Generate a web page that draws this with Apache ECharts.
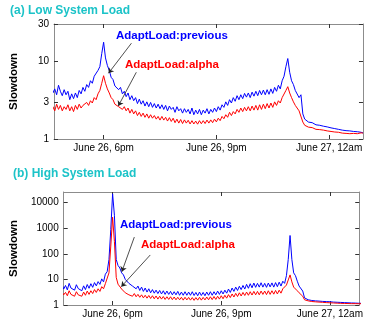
<!DOCTYPE html>
<html>
<head>
<meta charset="utf-8">
<script src="https://cdn.jsdelivr.net/npm/echarts@6/dist/echarts.min.js"></script>
<style>
html, body { margin: 0; padding: 0; background: #fff; }
#main { width: 365px; height: 320px; }
</style>
</head>
<body>
<div id="main"></div>
<script>
// samples every 0.05 h, hours relative to June 26, 6pm
const T0 = -1.4;
const STEP = 0.05;
const xTicks = [0, 3, 6];
const xTickLabels = ['June 26, 6pm', 'June 26, 9pm', 'June 27, 12am'];
const lowTicks = [1, 3, 10, 30];
const highTicks = [1, 10, 100, 1000, 10000];

const lowPrevious = [
  4.7, 3.9, 4.4, 3.7, 4.9, 4.1, 3.6, 4.3, 3.7, 4.1,
  3.2, 3.8, 3.3, 3.9, 3.4, 4.2, 3.8, 4.6, 4.1, 5.0,
  4.6, 5.6, 5.2, 6.4, 6.2, 7.6, 8.5, 12.5, 17.5, 11,
  8.8, 7.6, 6.2, 5.8, 4.8, 5.0, 4.3, 4.6, 3.8, 4.1,
  3.5, 3.9, 3.2, 3.6, 3.1, 3.4, 2.85, 3.25, 2.8, 3.1,
  2.65, 3.0, 2.6, 2.95, 2.55, 2.85, 2.5, 2.8, 2.45, 2.75,
  2.4, 2.7, 2.3, 2.65, 2.4, 2.55, 2.2, 2.6, 2.3, 2.45,
  2.15, 2.45, 2.2, 2.4, 2.1, 2.5, 2.05, 2.35, 2.1, 2.4,
  2.05, 2.35, 2.15, 2.45, 2.1, 2.4, 2.2, 2.5, 2.25, 2.6,
  2.35, 2.75, 2.55, 3.0, 2.7, 3.2, 2.9, 3.4, 3.05, 3.6,
  3.2, 3.7, 3.3, 3.85, 3.45, 3.9, 3.4, 4.0, 3.55, 4.1,
  3.6, 4.2, 3.7, 4.25, 3.7, 4.3, 3.75, 4.4, 3.85, 4.6,
  4.1, 4.9, 4.4, 5.6, 6.4, 8.5, 10.8, 7.2, 5.6, 5.0,
  4.2, 4.0, 3.4, 3.7, 2.1, 1.8, 1.7, 1.65, 1.58, 1.62,
  1.55, 1.52, 1.47, 1.5, 1.44, 1.46, 1.39, 1.43, 1.37, 1.39,
  1.33, 1.36, 1.31, 1.33, 1.28, 1.3, 1.27, 1.28, 1.25, 1.27,
  1.24, 1.25, 1.22, 1.24, 1.21, 1.22, 1.2
];
const lowAlpha = [
  2.0, 2.6, 2.3, 2.8, 2.4, 2.7, 2.3, 2.6, 2.4, 2.75,
  2.3, 2.6, 2.25, 2.7, 2.4, 2.8, 2.5, 2.7, 2.55, 2.95,
  2.7, 3.1, 2.9, 3.4, 3.2, 3.8, 4.2, 5.2, 6.5, 5.2,
  4.4, 3.9, 3.4, 3.2, 2.8, 2.95, 2.6, 2.75, 2.4, 2.6,
  2.3, 2.5, 2.15, 2.4, 2.1, 2.3, 2.0, 2.2, 1.95, 2.15,
  1.9, 2.1, 1.85, 2.05, 1.85, 2.0, 1.8, 1.95, 1.75, 1.95,
  1.75, 1.9, 1.7, 1.88, 1.68, 1.85, 1.62, 1.8, 1.6, 1.78,
  1.58, 1.76, 1.6, 1.74, 1.56, 1.72, 1.56, 1.7, 1.55, 1.72,
  1.57, 1.72, 1.58, 1.75, 1.6, 1.76, 1.62, 1.8, 1.66, 1.85,
  1.72, 1.95, 1.82, 2.05, 1.9, 2.2, 2.0, 2.25, 2.1, 2.4,
  2.2, 2.5, 2.25, 2.55, 2.3, 2.6, 2.3, 2.65, 2.35, 2.7,
  2.35, 2.75, 2.4, 2.8, 2.45, 2.85, 2.5, 2.9, 2.55, 3.0,
  2.7, 3.1, 2.9, 3.4, 3.6, 4.2, 4.7, 3.9, 3.4, 3.0,
  2.7, 2.6, 2.3, 2.4, 1.65, 1.5, 1.45, 1.42, 1.38, 1.4,
  1.35, 1.33, 1.3, 1.32, 1.28, 1.3, 1.26, 1.27, 1.24, 1.25,
  1.21, 1.23, 1.2, 1.22, 1.17, 1.19, 1.16, 1.18, 1.15, 1.17,
  1.17, 1.18, 1.15, 1.17, 1.18, 1.2, 1.19
];
const highPrevious = [
  6.5, 4.2, 5.8, 3.9, 7.0, 4.6, 5.4, 3.8, 6.2, 4.4,
  5.0, 3.6, 5.6, 4.0, 6.3, 4.5, 6.8, 4.9, 7.5, 5.6,
  8.2, 6.4, 10.5, 8.0, 16, 20, 60, 900, 22000, 3200,
  60, 35, 28, 18, 15, 10, 11, 7.0, 8.0, 5.5,
  6.2, 4.3, 5.5, 3.7, 5.0, 3.4, 4.6, 3.2, 4.3, 3.0,
  4.0, 2.9, 3.8, 2.8, 3.7, 2.7, 3.6, 2.6, 3.5, 2.6,
  3.4, 2.5, 3.3, 2.5, 3.4, 2.4, 3.2, 2.4, 3.3, 2.4,
  3.2, 2.4, 3.3, 2.35, 3.1, 2.3, 3.2, 2.35, 3.1, 2.3,
  3.2, 2.4, 3.3, 2.4, 3.3, 2.5, 3.5, 2.6, 3.6, 2.7,
  3.8, 2.9, 4.2, 3.1, 4.6, 3.4, 5.0, 3.7, 5.4, 4.0,
  5.8, 4.2, 6.4, 4.5, 6.8, 4.7, 7.2, 4.9, 7.0, 5.0,
  7.4, 5.0, 7.0, 4.9, 7.2, 5.1, 7.3, 5.0, 7.5, 5.2,
  7.8, 5.5, 8.5, 7.0, 14, 60, 520, 60, 18, 14,
  8.5, 5.5, 6.0, 3.5, 1.9, 1.7, 1.6, 1.55, 1.5, 1.52,
  1.45, 1.47, 1.42, 1.44, 1.38, 1.41, 1.36, 1.38, 1.34, 1.36,
  1.3, 1.33, 1.28, 1.31, 1.26, 1.28, 1.24, 1.26, 1.22, 1.24,
  1.2, 1.22, 1.19, 1.2, 1.17, 1.18, 1.16
];
const highAlpha = [
  3.4, 2.5, 3.1, 2.3, 3.6, 2.6, 3.0, 2.2, 3.3, 2.5,
  2.9, 2.2, 3.2, 2.4, 3.5, 2.6, 3.6, 2.8, 4.0, 3.1,
  4.3, 3.4, 5.2, 4.3, 6.8, 7.5, 18, 200, 2700, 300,
  12, 6.5, 5.5, 4.2, 3.8, 3.0, 3.3, 2.5, 2.9, 2.2,
  2.8, 2.1, 2.6, 2.0, 2.5, 1.9, 2.4, 1.85, 2.35, 1.8,
  2.3, 1.75, 2.25, 1.7, 2.2, 1.7, 2.15, 1.65, 2.1, 1.65,
  2.1, 1.62, 2.05, 1.6, 2.0, 1.6, 2.0, 1.55, 2.0, 1.58,
  1.98, 1.55, 1.95, 1.52, 1.95, 1.55, 2.0, 1.55, 1.98, 1.58,
  2.05, 1.6, 2.1, 1.62, 2.15, 1.65, 2.2, 1.7, 2.3, 1.75,
  2.4, 1.85, 2.55, 1.95, 2.7, 2.05, 2.85, 2.15, 3.0, 2.25,
  3.1, 2.35, 3.2, 2.4, 3.3, 2.45, 3.4, 2.5, 3.4, 2.5,
  3.5, 2.6, 3.5, 2.55, 3.6, 2.6, 3.6, 2.65, 3.7, 2.7,
  3.8, 2.9, 4.3, 3.8, 6.0, 9.5, 15, 8.0, 5.0, 4.2,
  3.6, 3.0, 2.9, 2.2, 1.6, 1.5, 1.45, 1.4, 1.37, 1.38,
  1.33, 1.35, 1.3, 1.32, 1.27, 1.29, 1.24, 1.26, 1.22, 1.24,
  1.2, 1.22, 1.18, 1.2, 1.16, 1.18, 1.15, 1.17, 1.14, 1.16,
  1.13, 1.15, 1.13, 1.14, 1.12, 1.14, 1.13
];

// arrow ends [hours, slowdown] : from label to curve
const lowArrows = [[[0.74, 17], [0.13, 7.0]], [[0.87, 7.2], [0.39, 2.65]]];
const highArrows = [[[0.6, 450], [0.255, 20]], [[1.04, 90], [0.24, 5.2]]];

const FONT = 'Liberation Sans, Arial, Helvetica, sans-serif';
const FRAME = '#8c8c8c';
const BLUE = '#0000ff';
const RED = '#ff0000';
const CYAN = '#1cc3c8';

function pairs(vals) {
  return vals.map((v, i) => [+(T0 + i * STEP).toFixed(2), v]);
}

function xAxes(gridIndex, min, max) {
  const base = {
    type: 'value', gridIndex: gridIndex, min: min, max: max,
    splitLine: { show: false },
    axisLine: { show: true, onZero: false, lineStyle: { color: FRAME, width: 1 } },
    axisTick: { show: true, inside: true, length: 4, customValues: xTicks, lineStyle: { color: '#333' } }
  };
  return [
    Object.assign({}, base, {
      position: 'bottom',
      axisLabel: {
        show: true, customValues: xTicks, color: '#000', fontSize: 10, fontFamily: FONT, margin: 4,
        formatter: v => xTickLabels[xTicks.indexOf(v)] || ''
      }
    }),
    Object.assign({}, base, { position: 'top', axisLabel: { show: false } })
  ];
}

function yAxes(gridIndex, max, ticks) {
  const base = {
    type: 'log', logBase: 10, gridIndex: gridIndex, min: 1, max: max,
    splitLine: { show: false }, minorTick: { show: false },
    axisLine: { show: true, onZero: false, lineStyle: { color: FRAME, width: 1 } },
    axisTick: { show: true, inside: true, length: 4, customValues: ticks, lineStyle: { color: '#333' } }
  };
  return [
    Object.assign({}, base, {
      position: 'left',
      name: 'Slowdown', nameLocation: 'middle', nameGap: 34,
      nameTextStyle: { color: '#000', fontWeight: 'bold', fontSize: 11.5, fontFamily: FONT },
      axisLabel: {
        show: true, customValues: ticks, color: '#000', fontSize: 10, fontFamily: FONT, margin: 5,
        formatter: v => String(Math.round(v))
      }
    }),
    Object.assign({}, base, { position: 'right', axisLabel: { show: false } })
  ];
}

function arrowLines(list) {
  return {
    silent: true, symbol: ['none', 'arrow'], symbolSize: 5, animation: false,
    label: { show: false },
    lineStyle: { color: '#222', width: 0.8, type: 'solid' },
    data: list.map(a => [{ coord: a[0] }, { coord: a[1] }])
  };
}

function line(name, vals, color, xi, yi, arrows) {
  const s = {
    name: name, type: 'line', xAxisIndex: xi, yAxisIndex: yi,
    data: pairs(vals), showSymbol: false, symbol: 'none', clip: true,
    lineStyle: { color: color, width: 1 }, itemStyle: { color: color }
  };
  if (arrows) s.markLine = arrowLines(arrows);
  return s;
}

function label(text, color, left, top, size) {
  return {
    type: 'text', left: left, top: top, z: 100,
    style: { text: text, fill: color, font: 'bold ' + size + 'px ' + FONT }
  };
}

const chart = echarts.init(document.getElementById('main'));
chart.setOption({
  animation: false,
  backgroundColor: '#fff',
  grid: [
    { left: 52, top: 24, right: 1, height: 115 },
    { left: 54, top: 192, right: 1, height: 113 }
  ],
  xAxis: xAxes(0, -1.32, 6.9).concat(xAxes(1, -1.35, 6.81)),
  yAxis: yAxes(0, 30, lowTicks).concat(yAxes(1, 26000, highTicks)),
  series: [
    line('AdaptLoad:previous', lowPrevious, BLUE, 0, 0, [lowArrows[0]]),
    line('AdaptLoad:alpha', lowAlpha, RED, 0, 0, [lowArrows[1]]),
    line('AdaptLoad:previous', highPrevious, BLUE, 2, 2, [highArrows[0]]),
    line('AdaptLoad:alpha', highAlpha, RED, 2, 2, [highArrows[1]])
  ],
  graphic: [
    label('(a) Low System Load', CYAN, 10, 5, 12),
    label('(b) High System Load', CYAN, 13, 168, 12),
    label('AdaptLoad:previous', BLUE, 116, 30, 11.5),
    label('AdaptLoad:alpha', RED, 125, 59, 11.5),
    label('AdaptLoad:previous', BLUE, 120, 219, 11.5),
    label('AdaptLoad:alpha', RED, 141, 239, 11.5)
  ]
});
</script>
</body>
</html>
